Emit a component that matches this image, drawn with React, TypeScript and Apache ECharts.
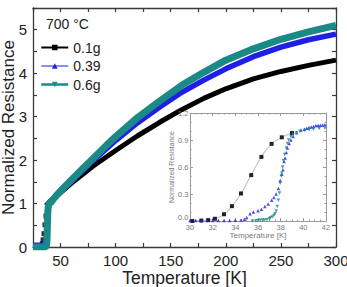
import React, { useEffect, useRef } from 'react';
import * as echarts from 'echarts';

const FONT = "'Liberation Sans', Arial, sans-serif";

const SAMPLES = ['0.1g', '0.39', '0.6g'];
const COLORS = ['#000000', '#1f1fe6', '#1b8a86'];
const ANNEAL_LABEL = '700 °C';

// Superconducting transition (inset), [T in K, normalized resistance]
const INSET_BLACK = [
  [30.2, 0.0], [31.0, 0.005], [31.6, 0.01], [32.2, 0.025], [33.0, 0.075], [33.7, 0.165],
  [34.5, 0.306], [35.4, 0.51], [36.3, 0.712], [37.2, 0.857], [38.1, 0.93], [39.0, 0.977],
];
const INSET_BLUE = [
  [30.0, 0.005], [30.5, 0.005], [31.0, 0.005], [31.5, 0.005], [32.0, 0.005], [32.5, 0.005],
  [33.0, 0.005], [33.5, 0.005], [34.0, 0.008], [34.5, 0.012], [34.8, 0.02], [35.0, 0.04],
  [35.3, 0.08], [35.6, 0.1], [36.0, 0.115], [36.3, 0.13], [36.6, 0.16], [36.9, 0.19],
  [37.2, 0.23], [37.4, 0.26], [37.6, 0.3], [37.8, 0.36], [37.96, 0.45], [38.1, 0.52],
  [38.2, 0.57], [38.3, 0.66], [38.4, 0.7], [38.5, 0.76], [38.6, 0.81], [38.75, 0.86],
  [38.9, 0.9], [39.1, 0.94], [39.4, 0.98], [39.8, 1.01], [40.1, 1.02], [40.3, 1.03],
  [40.5, 1.04], [40.7, 1.045], [40.9, 1.05], [41.1, 1.06], [41.3, 1.062], [41.5, 1.065],
  [41.7, 1.068], [41.9, 1.07],
];
const INSET_TEAL = [
  [35.5, 0.0], [35.8, 0.002], [36.0, 0.005], [36.2, 0.007], [36.4, 0.01], [36.6, 0.012],
  [36.8, 0.015], [37.0, 0.025], [37.1, 0.035], [37.25, 0.045], [37.4, 0.06], [37.5, 0.08],
  [37.6, 0.11], [37.7, 0.16], [37.8, 0.23], [37.9, 0.31], [37.96, 0.42], [38.05, 0.5],
  [38.1, 0.53], [38.18, 0.6], [38.25, 0.67], [38.35, 0.74], [38.5, 0.81], [38.6, 0.86],
  [38.7, 0.9], [38.9, 0.94], [39.1, 0.96], [39.4, 0.98], [39.7, 0.995], [40.1, 1.005],
  [40.5, 1.013], [40.9, 1.02], [41.4, 1.027], [41.9, 1.03],
];

// Normal-state resistance up to room temperature (main panel)
const BLACK_LOW = [[25, 0.03], [29, 0.03], [32.2, 0.04]];
const BLACK_NORMAL = [
  [36.8, 0.95], [40, 1.04], [50, 1.25], [60, 1.47], [80, 1.87], [100, 2.22], [120, 2.56],
  [140, 2.87], [160, 3.16], [180, 3.42], [200, 3.64], [225, 3.87], [250, 4.04], [275, 4.18], [300, 4.3],
];
const BLUE_LOW = [[25, 0.04], [30, 0.04]];
const BLUE_NORMAL = [
  [45, 1.14], [50, 1.27], [60, 1.51], [80, 2.0], [100, 2.45], [120, 2.86], [140, 3.22],
  [160, 3.56], [180, 3.84], [200, 4.1], [225, 4.38], [250, 4.6], [275, 4.77], [300, 4.9],
];
const TEAL_LOW = [[25, 0.0], [30, 0.0], [35, 0.0]];
const TEAL_NORMAL = [
  [45, 1.15], [50, 1.29], [60, 1.55], [70, 1.8], [80, 2.05], [92, 2.35], [100, 2.54],
  [120, 2.98], [140, 3.36], [160, 3.72], [180, 4.02], [200, 4.3], [225, 4.56], [250, 4.78],
  [275, 4.95], [300, 5.1],
];

const blackTransition = INSET_BLACK.filter((p) => p[0] > 32.5 && p[0] < 37);

export default function App() {
  const ref = useRef<HTMLDivElement>(null);

  useEffect(() => {
    if (!ref.current) return;
    const chart = echarts.init(ref.current, undefined, { renderer: 'svg' });

    const frame = '#3a3a3a';
    const insetFrame = '#9a9a9a';
    const insetText = '#7a7a7a';

    const mainX = {
      type: 'value', gridIndex: 0, min: 25, max: 300, interval: 25,
      axisLine: { show: true, onZero: false, lineStyle: { color: frame, width: 1.3 } },
      axisTick: { show: true, inside: true, length: 4, lineStyle: { color: frame, width: 1.2 } },
      splitLine: { show: false },
    };
    const mainY = {
      type: 'value', gridIndex: 0, min: 0, max: 5.5, interval: 0.5,
      axisLine: { show: true, onZero: false, lineStyle: { color: frame, width: 1.3 } },
      axisTick: { show: true, inside: true, length: 4, lineStyle: { color: frame, width: 1.2 } },
      splitLine: { show: false },
    };
    const insetX = {
      type: 'value', gridIndex: 1, min: 30, max: 42, interval: 2,
      axisLine: { show: true, onZero: false, lineStyle: { color: insetFrame, width: 1 } },
      axisTick: { show: true, inside: true, length: 3, lineStyle: { color: insetFrame } },
      minorTick: { show: true, splitNumber: 4, length: 1.5, lineStyle: { color: insetFrame } },
      splitLine: { show: false },
    };
    const insetY = {
      type: 'value', gridIndex: 1, min: 0, max: 1.2, interval: 0.3,
      axisLine: { show: true, onZero: false, lineStyle: { color: insetFrame, width: 1 } },
      axisTick: { show: true, inside: true, length: 3, lineStyle: { color: insetFrame } },
      minorTick: { show: true, splitNumber: 3, length: 1.5, lineStyle: { color: insetFrame } },
      splitLine: { show: false },
    };

    chart.setOption({
      animation: false,
      backgroundColor: '#ffffff',
      textStyle: { fontFamily: FONT },
      grid: [
        { left: 33, top: 8, right: 11, bottom: 40, outerBoundsMode: 'none', containLabel: false },
        {
          left: 190, top: 113, width: 136, height: 108, show: true, backgroundColor: '#ffffff',
          borderWidth: 0, z: 5, outerBoundsMode: 'none', containLabel: false,
        },
      ],
      xAxis: [
        {
          ...mainX, position: 'bottom',
          axisLabel: {
            margin: 6, fontSize: 15, color: '#222', fontFamily: FONT,
            formatter: (v: number) => (v % 50 === 0 ? String(v) : ''),
          },
          name: 'Temperature [K]', nameLocation: 'middle', nameGap: 22, nameMoveOverlap: false,
          nameTextStyle: { fontSize: 17.5, color: '#222', fontFamily: FONT },
        },
        { ...mainX, position: 'top', axisLabel: { show: false } },
        {
          ...insetX, position: 'bottom', z: 6,
          axisLabel: { margin: 2, fontSize: 7.5, color: insetText, fontFamily: FONT },
          name: 'Temperature [K]', nameLocation: 'middle', nameGap: 10, nameMoveOverlap: false,
          nameTextStyle: { fontSize: 8, color: insetText, fontFamily: FONT },
        },
        { ...insetX, position: 'top', z: 6, axisLabel: { show: false } },
      ],
      yAxis: [
        {
          ...mainY, position: 'left',
          axisLabel: {
            margin: 6, fontSize: 15, color: '#222', fontFamily: FONT,
            formatter: (v: number) => (Number.isInteger(v) ? String(v) : ''),
          },
          name: 'Normalized Resistance', nameLocation: 'middle', nameGap: 16, nameMoveOverlap: false,
          nameTextStyle: { fontSize: 17, color: '#222', fontFamily: FONT },
        },
        { ...mainY, position: 'right', axisLabel: { show: false } },
        {
          ...insetY, position: 'left', z: 6,
          axisLabel: {
            margin: 1.5, fontSize: 7.5, color: insetText, fontFamily: FONT,
            verticalAlignMinLabel: 'bottom',
            formatter: (v: number) => v.toFixed(1),
          },
          name: 'Normalized Resistance', nameLocation: 'middle', nameGap: 15, nameMoveOverlap: false,
          nameTextStyle: { fontSize: 7, color: insetText, fontFamily: FONT },
        },
        { ...insetY, position: 'right', z: 6, axisLabel: { show: false } },
      ],
      legend: {
        orient: 'vertical', left: 35, top: 34.5, itemGap: 2.5,
        itemWidth: 27, itemHeight: 7,
        textStyle: { fontSize: 14, color: '#222', fontFamily: FONT, lineHeight: 16 },
        data: [
          { name: SAMPLES[0], lineStyle: { width: 2 } },
          { name: SAMPLES[1], lineStyle: { width: 1 } },
          { name: SAMPLES[2], lineStyle: { width: 2.5 } },
        ],
      },
      graphic: [
        {
          type: 'text', left: 46, top: 17,
          style: { text: ANNEAL_LABEL, fontSize: 14, fill: '#222', fontFamily: FONT },
        },
      ],
      series: [
        {
          name: SAMPLES[0], type: 'line', xAxisIndex: 0, yAxisIndex: 0,
          data: [...BLACK_LOW, [34.5, null], ...BLACK_NORMAL],
          showSymbol: false, symbol: 'rect', connectNulls: false,
          lineStyle: { color: COLORS[0], width: 5 }, itemStyle: { color: COLORS[0] }, z: 2,
        },
        {
          name: SAMPLES[0], type: 'scatter', xAxisIndex: 0, yAxisIndex: 0,
          data: blackTransition, symbol: 'rect', symbolSize: [4, 5],
          itemStyle: { color: COLORS[0] }, z: 2,
        },
        {
          name: SAMPLES[1], type: 'line', xAxisIndex: 0, yAxisIndex: 0,
          data: [...BLUE_LOW, ...INSET_BLUE.filter((p) => p[0] > 34), ...BLUE_NORMAL],
          showSymbol: false, symbol: 'triangle',
          lineStyle: { color: COLORS[1], width: 5.5 }, itemStyle: { color: COLORS[1] }, z: 3,
        },
        {
          name: SAMPLES[2], type: 'line', xAxisIndex: 0, yAxisIndex: 0,
          data: [...TEAL_LOW, ...INSET_TEAL, ...TEAL_NORMAL],
          showSymbol: false, symbol: 'triangle', symbolRotate: 180,
          lineStyle: { color: COLORS[2], width: 7 }, itemStyle: { color: COLORS[2] }, z: 4,
        },
        {
          name: SAMPLES[0], type: 'line', xAxisIndex: 2, yAxisIndex: 2,
          data: INSET_BLACK, smooth: true, symbol: 'rect', symbolSize: 4, showSymbol: true,
          lineStyle: { color: '#a0a0a0', width: 0.8 }, itemStyle: { color: '#222' }, z: 10,
        },
        {
          name: SAMPLES[1], type: 'scatter', xAxisIndex: 2, yAxisIndex: 2,
          data: INSET_BLUE, symbol: 'triangle', symbolSize: 3.5,
          itemStyle: { color: COLORS[1] }, z: 10,
        },
        {
          name: SAMPLES[2], type: 'scatter', xAxisIndex: 2, yAxisIndex: 2,
          data: INSET_TEAL, symbol: 'triangle', symbolRotate: 180, symbolSize: 3.5,
          itemStyle: { color: COLORS[2] }, z: 10,
        },
      ],
    });

    return () => chart.dispose();
  }, []);

  return (
    <div
      ref={ref}
      style={{ position: 'fixed', left: 0, top: 0, width: 347, height: 287, background: '#fff' }}
    />
  );
}
